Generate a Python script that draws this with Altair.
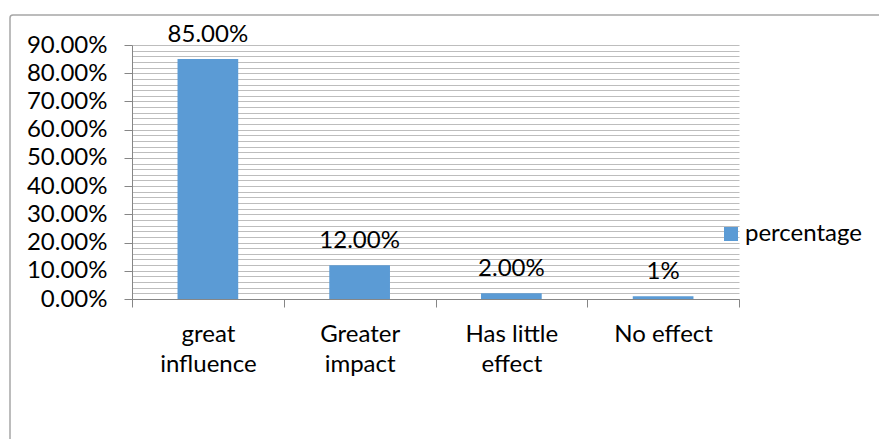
import altair as alt
import pandas as pd

categories = ["great\ninfluence", "Greater\nimpact", "Has little\neffect", "No effect"]
values = [85, 12, 2, 1]
value_labels = ["85.00%", "12.00%", "2.00%", "1%"]
series_name = "percentage"
y_grid_values = list(range(0, 91, 2))

df = pd.DataFrame({
    "category": categories,
    "value": values,
    "label": value_labels,
    "series": [series_name] * len(categories),
})

FONT = "Lato"
FS = 24
AXIS_COLOR = "#868686"

x_enc = alt.X(
    "category:N",
    sort=categories,
    scale=alt.Scale(paddingInner=0, paddingOuter=0),
    axis=alt.Axis(
        title=None,
        labelAngle=0,
        labelFont=FONT,
        labelFontSize=FS,
        labelColor="black",
        labelExpr="split(datum.label, '\\n')",
        labelLineHeight=30,
        labelBaseline="top",
        labelPadding=15,
        tickBand="extent",
        tickSize=8,
        tickColor=AXIS_COLOR,
        domainColor=AXIS_COLOR,
        grid=False,
        labelOverlap=False,
    ),
)

y_enc = alt.Y(
    "value:Q",
    scale=alt.Scale(domain=[0, 90], nice=False),
    axis=alt.Axis(
        title=None,
        values=y_grid_values,
        tickCount=200,
        labelExpr="datum.value % 10 === 0 ? format(datum.value / 100, '.2%') : ''",
        labelFont=FONT,
        labelFontSize=FS,
        labelColor="black",
        labelPadding=17,
        labelOverlap=False,
        tickSize=8,
        tickColor={"condition": {"test": "datum.value % 10 === 0", "value": AXIS_COLOR}, "value": "transparent"},
        domainColor=AXIS_COLOR,
        grid=True,
        gridColor="#bdbdbd",
        gridWidth=1,
    ),
)

base = alt.Chart(df)

bars = base.mark_bar(width=alt.RelativeBandSize(0.4), color="#5b9bd5").encode(
    x=x_enc,
    y=y_enc,
    color=alt.Color(
        "series:N",
        scale=alt.Scale(range=["#5b9bd5"]),
        legend=alt.Legend(
            title=None,
            orient="none",
            legendX=587,
            legendY=177,
            padding=0,
            symbolType="square",
            symbolSize=196,
            symbolStrokeWidth=0,
            labelFont=FONT,
            labelFontSize=FS,
            labelColor="black",
            labelOffset=2,
        ),
    ),
)

texts = base.mark_text(
    baseline="alphabetic", dy=-17, font=FONT, fontSize=FS, color="black"
).encode(
    x=alt.X("category:N", sort=categories),
    y=alt.Y("value:Q"),
    text="label:N",
)

frame = alt.Chart(pd.DataFrame({"f": [0]})).mark_rect(
    filled=False, stroke="#a6a6a6", strokeWidth=1.5, cornerRadius=3
).encode(
    x=alt.value(-122), x2=alt.value(780), y=alt.value(-30), y2=alt.value(420)
)

chart = alt.layer(frame, bars, texts).properties(
    width=607,
    height=254,
    autosize=alt.AutoSizeParams(type="none"),
    padding={"left": 132, "top": 45, "right": 140, "bottom": 140},
    background="white",
).configure_view(stroke=None)

chart.save("out.html", embed_options={"renderer": "svg", "actions": False})
